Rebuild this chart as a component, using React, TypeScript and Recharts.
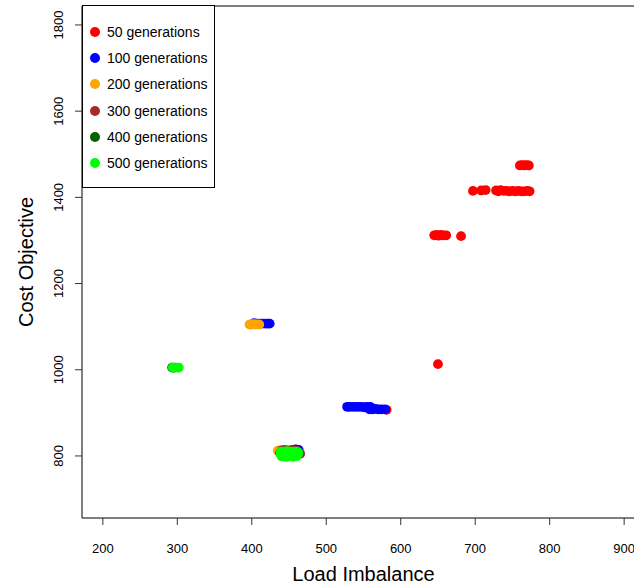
import { ScatterChart, Scatter, XAxis, YAxis, ReferenceArea, Legend } from 'recharts';

// [load imbalance, cost objective]
const gen50 = [
  [760, 1474], [763, 1475], [766, 1474], [769, 1475], [772, 1474],
  [697, 1415], [708, 1416], [714, 1417], [728, 1416], [731, 1414], [734, 1417],
  [738, 1415], [742, 1415], [746, 1414], [750, 1415], [754, 1414], [758, 1415],
  [762, 1414], [766, 1414], [770, 1415], [773, 1414],
  [645, 1312], [648, 1313], [651, 1311], [654, 1313], [657, 1312], [661, 1312], [681, 1310],
  [650, 1013], [581, 907]
];
const gen100 = [
  [403, 1108], [406, 1107], [410, 1107], [414, 1107], [418, 1107], [421, 1107], [424, 1107],
  [528, 914], [531, 914], [535, 914], [539, 914], [543, 914], [547, 914], [551, 913], [555, 914], [559, 914],
  [558, 908], [562, 908], [566, 909], [570, 908], [574, 908], [579, 908],
  [455, 814], [459, 815], [463, 814]
];
const gen200 = [
  [397, 1105], [400, 1105], [403, 1106], [406, 1105], [410, 1105],
  [435, 812], [439, 813], [443, 812], [447, 812], [451, 812]
];
const gen300 = [
  [440, 813], [444, 814], [448, 813], [452, 813], [456, 813], [460, 812], [465, 805]
];
const gen400 = [
  [293, 1005], [296, 1005],
  [438, 807], [444, 806], [450, 807], [456, 806], [462, 807]
];
const gen500 = [
  [294, 1005], [297, 1005], [300, 1005], [302, 1005],
  [439, 810], [443, 810], [447, 811], [451, 810], [455, 810], [459, 810], [462, 809],
  [439, 804], [443, 804], [447, 804], [451, 804], [455, 804], [459, 804], [462, 804],
  [440, 799], [444, 798], [448, 798], [452, 799], [456, 798], [460, 799]
];

const seriesNames = ['50 generations', '100 generations', '200 generations', '300 generations', '400 generations', '500 generations'];
const seriesColors = ['#ff0000', '#0000ff', '#ffa500', '#a52a2a', '#006400', '#00ff00'];
const seriesData = [gen50, gen100, gen200, gen300, gen400, gen500];

const xTicks = [200, 300, 400, 500, 600, 700, 800, 900];
const yTicks = [800, 1000, 1200, 1400, 1600, 1800];

const font = '"Liberation Sans", Arial, Helvetica, sans-serif';

function XTick(props: any) {
  const { x, y, payload } = props;
  return (
    <text x={x} y={y} dy={26} textAnchor="middle" fontSize={13} fill="#000" fontFamily={font}>
      {payload.value}
    </text>
  );
}

function YTick(props: any) {
  const { x, y, payload } = props;
  const tx = x - 10;
  return (
    <text x={tx} y={y} transform={`rotate(-90, ${tx}, ${y})`} textAnchor="middle" fontSize={13} fill="#000" fontFamily={font}>
      {payload.value}
    </text>
  );
}

function Dot(props: any) {
  const { cx, cy, fill } = props;
  return <circle cx={cx} cy={cy} r={4.9} fill={fill} />;
}

function LegendBox() {
  return (
    <div style={{ border: '1px solid #000', width: 133, height: 183, boxSizing: 'border-box', paddingTop: 13, background: '#fff', fontFamily: font, fontSize: 14, color: '#000' }}>
      {seriesNames.map((name, i) => (
        <div key={name} style={{ display: 'flex', alignItems: 'center', height: 26.2 }}>
          <span style={{ width: 10, height: 10, borderRadius: '50%', background: seriesColors[i], marginLeft: 7, marginRight: 7, flexShrink: 0 }} />
          <span style={{ whiteSpace: 'nowrap' }}>{name}</span>
        </div>
      ))}
    </div>
  );
}

export default function App() {
  return (
    <div style={{ position: 'absolute', left: 0, top: 0, width: 634, height: 586, overflow: 'hidden', background: '#fff' }}>
      <ScatterChart width={660} height={586} margin={{ top: 6, right: 15, bottom: 0, left: 0 }}>
        <XAxis
          type="number"
          dataKey="x"
          domain={[172, 928]}
          ticks={xTicks}
          height={68}
          axisLine={false}
          tickSize={7}
          tickLine={{ stroke: '#333' }}
          tick={<XTick />}
          interval={0}
          label={{
            content: (p: any) => {
              const vb = p.viewBox;
              return (
                <text x={vb.x + vb.width / 2} y={vb.y + vb.height - 5} textAnchor="middle" fontSize={20} fill="#000" fontFamily={font}>
                  Load Imbalance
                </text>
              );
            }
          }}
        />
        <YAxis
          type="number"
          dataKey="y"
          domain={[656, 1844]}
          ticks={yTicks}
          width={82}
          axisLine={false}
          tickSize={7}
          tickLine={{ stroke: '#333' }}
          tick={<YTick />}
          interval={0}
          label={{
            content: (p: any) => {
              const vb = p.viewBox;
              const cy = vb.y + vb.height / 2;
              return (
                <text x={33} y={cy} transform={`rotate(-90, 33, ${cy})`} textAnchor="middle" fontSize={20} fill="#000" fontFamily={font}>
                  Cost Objective
                </text>
              );
            }
          }}
        />
        <ReferenceArea x1={172} x2={928} y1={656} y2={1844} fill="none" fillOpacity={0} stroke="#000" strokeWidth={1} ifOverflow="visible" />
        {seriesData.map((pts, i) => (
          <Scatter
            key={seriesNames[i]}
            name={seriesNames[i]}
            data={pts.map(([x, y]) => ({ x, y }))}
            fill={seriesColors[i]}
            shape={<Dot />}
            isAnimationActive={false}
          />
        ))}
        <Legend
          layout="vertical"
          align="center"
          verticalAlign="middle"
          wrapperStyle={{ top: 5, left: 82, width: 133, height: 183 }}
          content={<LegendBox />}
        />
      </ScatterChart>
    </div>
  );
}
